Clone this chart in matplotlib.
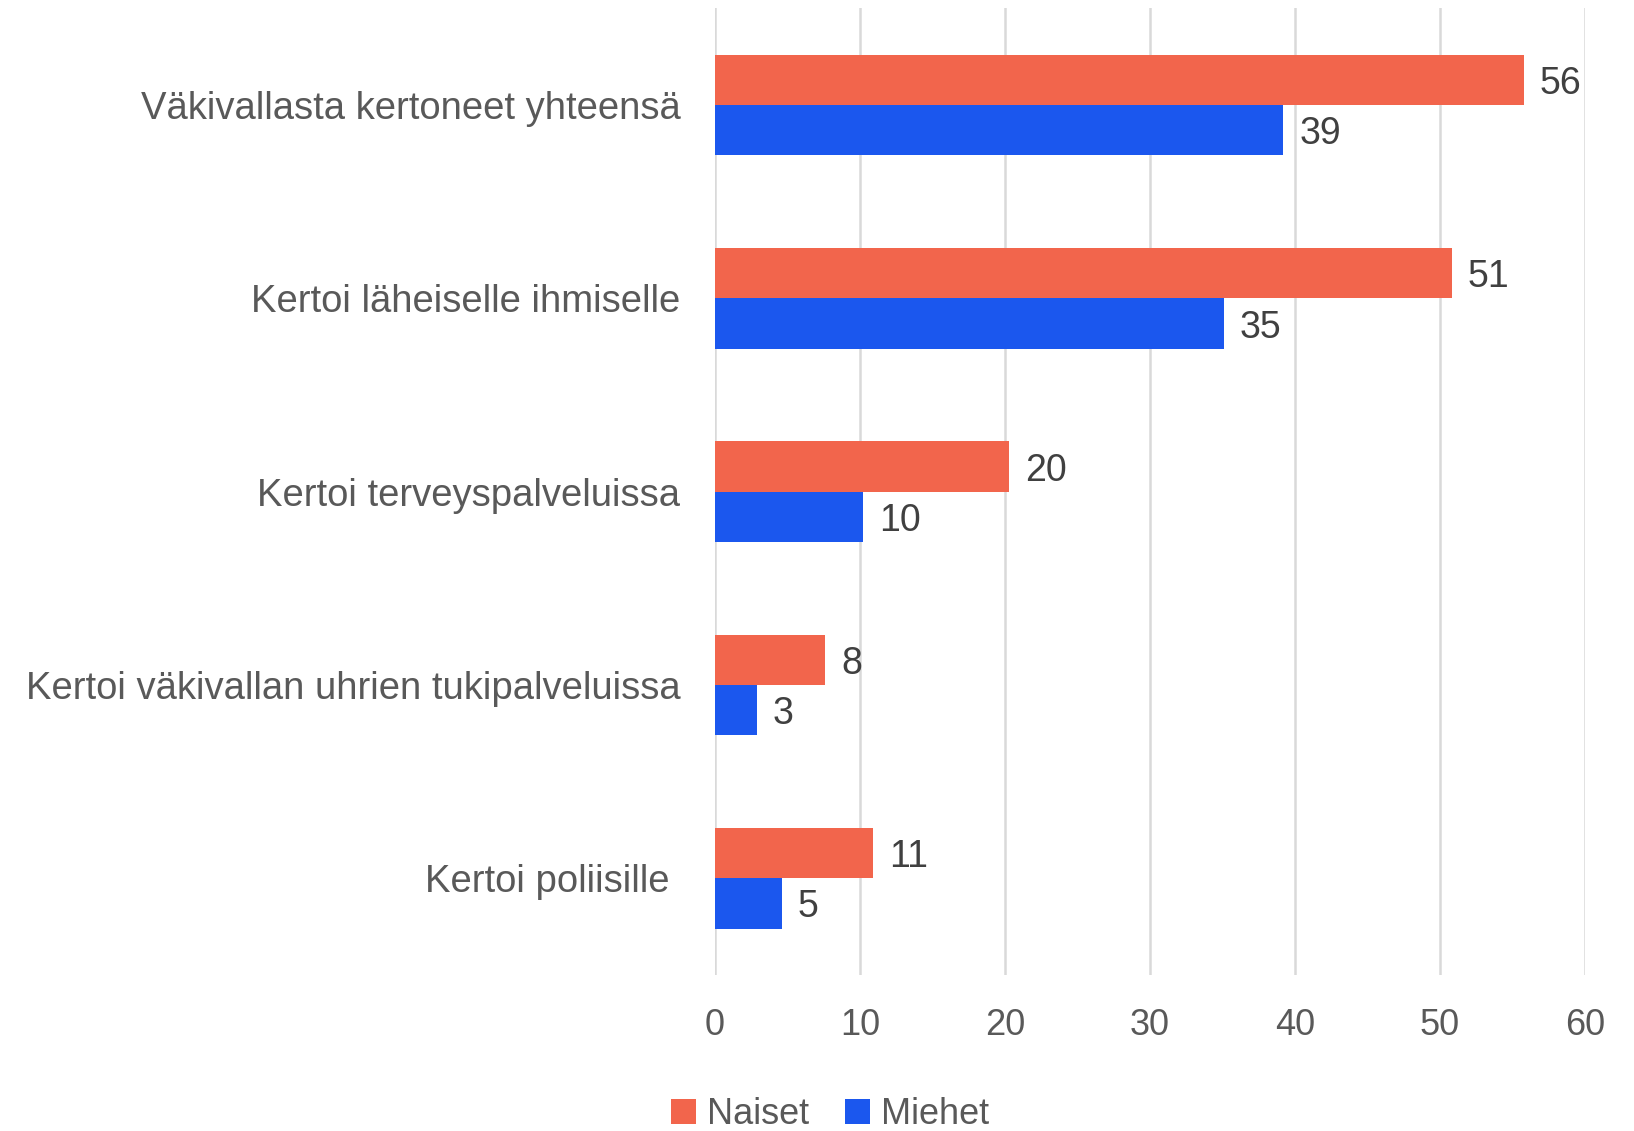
import numpy as np
import matplotlib.pyplot as plt

plt.rcParams['font.family'] = ['Liberation Sans', 'DejaVu Sans']

categories = ["Väkivallasta kertoneet yhteensä", "Kertoi läheiselle ihmiselle",
              "Kertoi terveyspalveluissa", "Kertoi väkivallan uhrien tukipalveluissa",
              "Kertoi poliisille "]
naiset = [55.8, 50.8, 20.3, 7.6, 10.9]
miehet = [39.2, 35.1, 10.2, 2.9, 4.6]
naiset_labels = ["56", "51", "20", "8", "11"]
miehet_labels = ["39", "35", "10", "3", "5"]

c_nai = "#F2654C"
c_mie = "#1B57EE"
txt = "#595959"

fig = plt.figure(figsize=(16.34, 11.31), dpi=100)
ax = fig.add_axes([0.4376, 0.138, 0.5324, 0.8545])

y = np.arange(len(categories))
h = 0.26
b1 = ax.barh(y - h / 2, naiset, height=h, color=c_nai, label="Naiset", zorder=3)
b2 = ax.barh(y + h / 2, miehet, height=h, color=c_mie, label="Miehet", zorder=3)

# arvot palkkien perään
for bars, labs in [(b1, naiset_labels), (b2, miehet_labels)]:
    for bar, lab in zip(bars, labs):
        ax.text(bar.get_width() + 1.1, bar.get_y() + bar.get_height() / 2, lab,
                va="center_baseline", ha="left", fontsize=27, color="#404040")

ax.set_xlim(0, 60)
ax.set_ylim(4.5, -0.5)
ax.set_xticks(range(0, 61, 10))
ax.set_yticks(y)
ax.set_yticklabels(categories)
ax.grid(axis="x", color="#D9D9D9", linewidth=1.8, zorder=0)
for s in ax.spines.values():
    s.set_visible(False)
ax.tick_params(axis="y", length=0, pad=25, labelsize=27.5, labelcolor=txt)
ax.tick_params(axis="x", length=0, pad=24, labelsize=26, labelcolor=txt)

fig.legend(loc="lower center", bbox_to_anchor=(0.508, -0.03), ncol=2, frameon=False,
           fontsize=26, labelcolor=txt, handlelength=0.7, handleheight=0.7,
           handletextpad=0.3, columnspacing=1.0)

fig.savefig("out.png", dpi=100)
